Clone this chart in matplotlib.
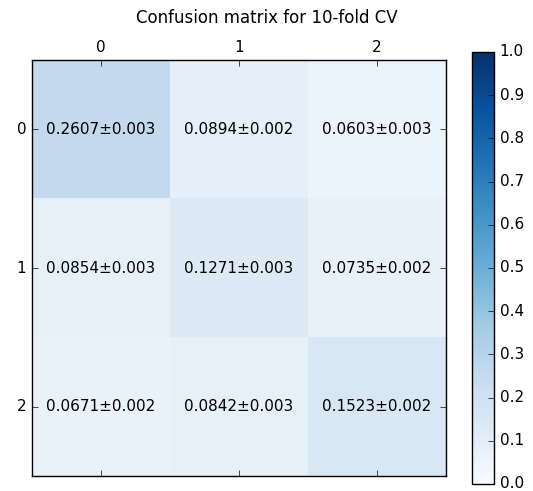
import matplotlib
matplotlib.use('Agg')
import matplotlib.pyplot as plt
import numpy as np

plt.style.use('classic')

labels = ['0', '1', '2']
means = np.array([[0.2607, 0.0894, 0.0603],
                  [0.0854, 0.1271, 0.0735],
                  [0.0671, 0.0842, 0.1523]])
stds = np.array([[0.003, 0.002, 0.003],
                 [0.003, 0.003, 0.002],
                 [0.002, 0.003, 0.002]])

fig = plt.figure(figsize=(5.33, 4.91), dpi=100, facecolor='white')
ax = fig.add_axes([0.060, 0.0305, 0.777, 0.847])
cax = fig.add_axes([0.886, 0.0143, 0.041, 0.880])

im = ax.matshow(means, cmap=plt.cm.Blues, vmin=0, vmax=1, aspect='auto')
cb = fig.colorbar(im, cax=cax, ticks=np.arange(0, 1.01, 0.1))
cb.ax.tick_params(labelsize=11)

for i in range(means.shape[0]):
    for j in range(means.shape[1]):
        ax.text(j, i, '%.4f\u00b1%.3f' % (means[i, j], stds[i, j]),
                ha='center', va='center', fontsize=11)

ax.set_xticks(range(len(labels)))
ax.set_yticks(range(len(labels)))
ax.set_xticklabels(labels)
ax.set_yticklabels(labels)
ax.tick_params(labelsize=11)

# title is centred on the figure, not on the matrix
fig.text(0.5, 1 - 18.0 / 491, 'Confusion matrix for 10-fold CV',
         ha='center', va='center', fontsize=12)

plt.savefig('out.png', dpi=100, facecolor='white')
